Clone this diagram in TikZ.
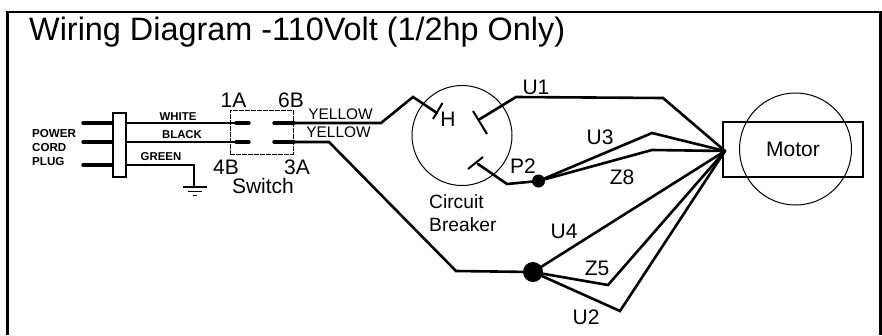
\documentclass[tikz,border=0pt]{standalone}
\usepackage{fontspec}
\setmainfont{Liberation Sans}
\tikzset{
  lab/.style={inner sep=0pt,font=\fontsize{21}{24}\selectfont,text=black},
  small/.style={inner sep=0pt,font=\fontsize{11.4}{14}\selectfont\bfseries,text=black},
  yel/.style={inner sep=0pt,font=\fontsize{15.4}{18}\selectfont,text=black},
  wire/.style={line width=2.6pt,line join=miter,line cap=round},
  thin wire/.style={line width=1.1pt},
  prong/.style={line width=3.4pt,line cap=round},
  bar/.style={line width=2pt},
  dot/.style={circle,fill=black,inner sep=0pt}
}
\begin{document}
\begin{tikzpicture}[x=1pt,y=-1pt]
\useasboundingbox (0,0) rectangle (882,335);
\draw[line width=2.6pt] (7.5,335) -- (7.5,12) -- (880.5,12) -- (880.5,335);
\node[anchor=west,inner sep=0pt,font=\fontsize{32.4}{36}\selectfont] (title) at (29,32) {Wiring Diagram -110Volt (1/2hp Only)};
% plug
\node[small,align=left,anchor=west,font=\fontsize{11.6}{14}\selectfont\bfseries] (plugl) at (32,147.5) {POWER\\CORD\\PLUG};
\node[draw,line width=1.4pt,minimum width=13pt,minimum height=64pt,inner sep=0pt] (plug) at (119.5,145) {};
\coordinate (p1) at (83,123); \coordinate (p2) at (83,142); \coordinate (p3) at (83,165);
\draw[prong] (p1) -- (plug.west |- p1);
\draw[prong] (p2) -- (plug.west |- p2);
\draw[prong] (p3) -- (plug.west |- p3);
% switch
\node[draw,line width=0.9pt,dash pattern=on 5pt off 1pt,minimum width=63pt,minimum height=44pt,inner sep=0pt] (sw) at (261.5,132) {};
\coordinate (a1) at (236,123); \coordinate (a2) at (249,123);
\coordinate (b1) at (236,142); \coordinate (b2) at (249,142);
\coordinate (c1) at (274,123); \coordinate (c2) at (294,123);
\coordinate (d1) at (274,142); \coordinate (d2) at (294,142);
\draw[prong] (a1) -- (a2); \draw[prong] (b1) -- (b2);
\draw[prong] (c1) -- (c2); \draw[prong] (d1) -- (d2);
\draw[thin wire] (plug.east |- a1) -- (a1);
\draw[thin wire] (plug.east |- b1) -- (b1);
\node[small] (white) at (178,116.5) {WHITE};
\node[small] (black) at (182,135) {BLACK};
\node[small] (green) at (161,156.5) {GREEN};
% ground
\coordinate (g0) at (194,165); \coordinate (g1) at (194,187);
\draw[thin wire] (plug.east |- g0) -- (g0) -- (g1);
\draw[line width=1.3pt] (183,187) -- (207,187) (188,191.5) -- (202,191.5);
\draw[line width=1.6pt] (193,195.5) -- (197,195.5);
\node[lab] (l1a) at (233.5,100) {1A};
\node[lab] (l6b) at (291,100) {6B};
\node[lab] (l4b) at (226,167) {4B};
\node[lab] (l3a) at (297,167) {3A};
\node[lab] (swl) at (263,186) {Switch};
% yellow wires
\node[yel] (y1) at (340.5,114) {YELLOW};
\node[yel] (y2) at (338.5,132) {YELLOW};
% breaker
\node[draw,circle,line width=1pt,minimum size=100pt,inner sep=0pt] (cb) at (462,135.5) {};
\coordinate (hm) at (413,97);
\coordinate (ht) at (437,113);
\draw[wire] (c2) -- (381,123) -- (hm) -- (ht);
\draw[bar] (442.5,103) -- (433,119);
\node[lab] (h) at (448,119) {H};
\coordinate (ut) at (480,119);
\draw[bar] (473,111) -- (487,134);
\node[lab] (u1) at (536,87) {U1};
\coordinate (u1b) at (516,97);
\coordinate (u1c) at (663,98);
\coordinate (mt) at (725,151);
\draw[wire] (ut) -- (u1b) -- (u1c) -- (mt);
\draw[bar] (483,157) -- (468,169);
\node[dot,minimum size=13pt] (j1) at (538.5,181) {};
\draw[wire] (478,164) -- (507,184) -- (j1.center);
\node[lab] (p2l) at (523,166) {P2};
\coordinate (u3m) at (652,133); \coordinate (z8m) at (652,150);
\draw[wire] (j1.center) -- (u3m) -- (mt);
\draw[wire] (j1.center) -- (z8m) -- (mt);
\node[lab] (u3) at (600,137) {U3};
\node[lab] (z8) at (622,177) {Z8};
\node[lab,align=left,anchor=north west,font=\fontsize{19.2}{23}\selectfont] (cbl) at (429,194) {Circuit\\Breaker};
% lower
\node[dot,minimum size=20pt] (j2) at (533,272) {};
\draw[wire] (d2) -- (329,142) -- (456,271) -- (j2.center);
\coordinate (z5m) at (608,285); \coordinate (u2m) at (620,311);
\draw[wire] (j2.center) -- (mt);
\draw[wire] (j2.center) -- (z5m) -- (mt);
\draw[wire] (j2.center) -- (u2m) -- (mt);
\node[lab] (u4) at (564,231) {U4};
\node[lab] (z5) at (597,268) {Z5};
\node[lab] (u2) at (586,317) {U2};
% motor
\node[draw,line width=1.5pt,minimum width=140pt,minimum height=55pt,inner sep=0pt] (mb) at (793,149.5) {};
\node[draw,circle,line width=1pt,minimum size=112pt,inner sep=0pt] (mc) at (795.5,149) {};
\node[lab] (motor) at (793,149) {Motor};
\end{tikzpicture}
\end{document}
